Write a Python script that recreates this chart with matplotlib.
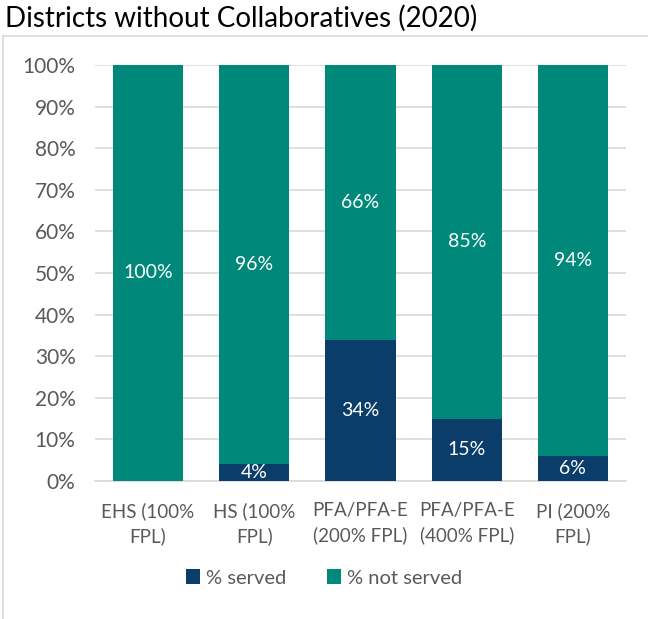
import numpy as np
import matplotlib.pyplot as plt
from matplotlib.lines import Line2D

categories = ["EHS (100%\nFPL)", "HS (100%\nFPL)", "PFA/PFA-E\n(200% FPL)",
              "PFA/PFA-E\n(400% FPL)", "PI (200%\nFPL)"]
served = [0, 4, 34, 15, 6]
not_served = [100, 96, 66, 85, 94]
yticks = [0, 10, 20, 30, 40, 50, 60, 70, 80, 90, 100]

navy = "#0b3d6b"
teal = "#00897a"
gray = "#595959"

plt.rcParams["font.family"] = ["Lato", "DejaVu Sans"]

fig = plt.figure(figsize=(6.48, 6.19), dpi=100)
ax = fig.add_axes([95 / 648, 1 - 481 / 619, 531 / 648, 416 / 619])

x = np.arange(len(categories))
ax.bar(x, served, width=0.66, color=navy, label="% served", zorder=3)
ax.bar(x, not_served, width=0.66, bottom=served, color=teal,
       label="% not served", zorder=3)

# data labels
for i in range(len(x)):
    if served[i] > 0:
        ax.text(x[i], served[i] / 2, f"{served[i]}%", ha="center", va="center",
                color="white", fontsize=14, zorder=4)
    if not_served[i] > 0:
        ax.text(x[i], served[i] + not_served[i] / 2, f"{not_served[i]}%",
                ha="center", va="center", color="white", fontsize=14, zorder=4)

ax.set_xlim(-0.5, len(x) - 0.5)
ax.set_ylim(0, 100)
ax.set_yticks(yticks)
ax.set_yticklabels([f"{t}%" for t in yticks])
ax.set_xticks(x)
ax.set_xticklabels(categories, linespacing=1.5)
ax.tick_params(axis="both", length=0, colors=gray, labelsize=15)
ax.tick_params(axis="x", pad=15, labelsize=13.5)
ax.tick_params(axis="y", pad=14)
ax.grid(axis="y", color="#d9d9d9", linewidth=1.2, zorder=0)
for s in ["top", "right", "left"]:
    ax.spines[s].set_visible(False)
ax.spines["bottom"].set_color("#d9d9d9")
ax.spines["bottom"].set_linewidth(1.2)

# chart frame
fig.add_artist(Line2D([3 / 648, 3 / 648], [0, 1 - 36 / 619], color="#d9d9d9",
                      linewidth=1.2, transform=fig.transFigure))
fig.add_artist(Line2D([3 / 648, 1], [1 - 36 / 619, 1 - 36 / 619], color="#d9d9d9",
                      linewidth=1.2, transform=fig.transFigure))

fig.text(5 / 648, 1 - 18 / 619, "Districts without Collaboratives (2020)",
         ha="left", va="center", fontsize=20, color="black")

fig.legend(loc="center", bbox_to_anchor=(0.5, 1 - 578 / 619), ncol=2,
           frameon=False, fontsize=14.5, handlelength=0.7, handleheight=0.7,
           handletextpad=0.3, columnspacing=2.0, labelcolor=gray)

fig.savefig("out.png", dpi=100)
